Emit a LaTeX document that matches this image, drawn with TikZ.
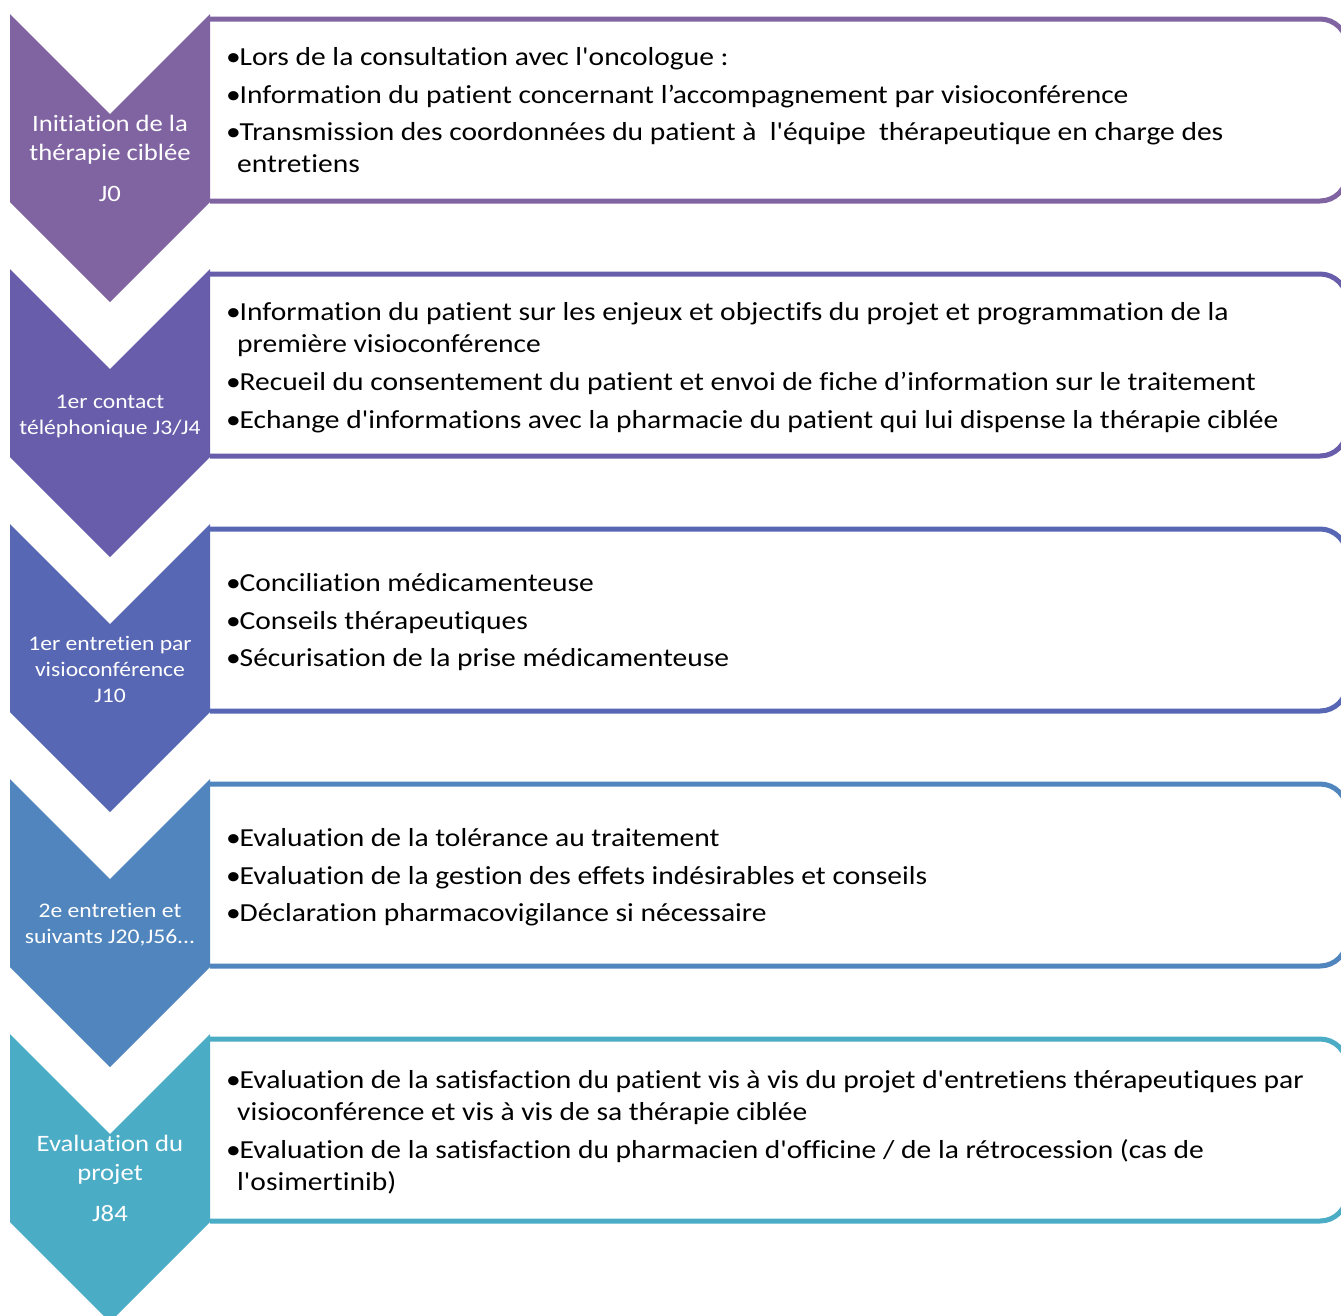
\documentclass[tikz,border=0pt]{standalone}
\usepackage{fontspec}
\setmainfont{Carlito}[Ligatures={TeXOff,NoCommon},FakeStretch=1.135]
\definecolor{cA}{RGB}{128,100,162}
\definecolor{cB}{RGB}{104,93,171}
\definecolor{cC}{RGB}{87,103,180}
\definecolor{cD}{RGB}{81,133,189}
\definecolor{cE}{RGB}{75,172,198}
\tikzset{
  chevshape/.style={fill=#1, draw=none},
  framebox/.style={draw=#1, line width=5pt, rounded corners=27pt},
  biglbl/.style={text=white, anchor=base, inner sep=0pt, font=\fontsize{23.5}{29}\selectfont},
  smalllbl/.style={text=white, anchor=base, inner sep=0pt, font=\fontsize{20.8}{26}\selectfont},
  bul/.style={anchor=base west, inner sep=0pt, font=\fontsize{26}{32}\selectfont}
}
\newcommand{\bl}{\makebox[13.5pt][l]{•}}
\newcommand{\cont}{\hspace*{11pt}}
\begin{document}
\begin{tikzpicture}[x=1pt,y=-1pt]
\useasboundingbox (0,0) rectangle (1341,1315);
\clip (0,0) rectangle (1341,1315);
\fill[white] (0,0) rectangle (1341,1315);

% frames first, chevrons on top
\draw[framebox=cA] (210,19) -- (1347,19) -- (1347,201) -- (210,201);
\draw[framebox=cB] (210,274) -- (1347,274) -- (1347,456) -- (210,456);
\draw[framebox=cC] (210,529) -- (1347,529) -- (1347,711) -- (210,711);
\draw[framebox=cD] (210,784) -- (1347,784) -- (1347,966) -- (210,966);
\draw[framebox=cE] (210,1039) -- (1347,1039) -- (1347,1221) -- (210,1221);

\path[chevshape=cA] (10,14) -- (110,114) -- (210,14) -- (210,202) -- (110,302) -- (10,202) -- cycle;
\path[chevshape=cB] (10,269) -- (110,369) -- (210,269) -- (210,457) -- (110,557) -- (10,457) -- cycle;
\path[chevshape=cC] (10,524) -- (110,624) -- (210,524) -- (210,712) -- (110,812) -- (10,712) -- cycle;
\path[chevshape=cD] (10,779) -- (110,879) -- (210,779) -- (210,967) -- (110,1067) -- (10,967) -- cycle;
\path[chevshape=cE] (10,1034) -- (110,1134) -- (210,1034) -- (210,1222) -- (110,1322) -- (10,1222) -- cycle;

% stage labels
\node[biglbl] (s1) at (110,131.7) {\begin{tabular}[t]{@{}c@{}}Initiation de la\\thérapie ciblée\\[12pt]J0\end{tabular}};
\node[smalllbl] (s2) at (110,408) {\begin{tabular}[t]{@{}c@{}}1er contact\\téléphonique J3/J4\end{tabular}};
\node[smalllbl] (s3) at (110,650) {\begin{tabular}[t]{@{}c@{}}1er entretien par\\visioconférence\\J10\end{tabular}};
\node[smalllbl] (s4) at (110,917) {\begin{tabular}[t]{@{}c@{}}2e entretien et\\suivants J20,J56...\end{tabular}};
\node[biglbl] (s5) at (110,1151.7) {\begin{tabular}[t]{@{}c@{}}Evaluation du\\projet\\[12pt]J84\end{tabular}};

% box 1
\node[bul] (a1) at (226,65) {\bl Lors de la consultation avec l'oncologue :};
\node[bul] (a2) at (226,103) {\bl Information du patient concernant l’accompagnement par visioconférence};
\node[bul] (a3) at (226,140) {\begin{tabular}[t]{@{}l@{}}\bl Transmission des coordonnées du patient à~ l'équipe~ thérapeutique en charge des\\\cont entretiens\end{tabular}};
% box 2
\node[bul] (b1) at (226,320) {\begin{tabular}[t]{@{}l@{}}\bl Information du patient sur les enjeux et objectifs du projet et programmation de la\\\cont première visioconférence\end{tabular}};
\node[bul] (b2) at (226,390) {\bl Recueil du consentement du patient et envoi de fiche d’information sur le traitement};
\node[bul] (b3) at (226,428) {\bl Echange d'informations avec la pharmacie du patient qui lui dispense la thérapie ciblée};
% box 3
\node[bul] (c1) at (226,591) {\bl Conciliation médicamenteuse};
\node[bul] (c2) at (226,629) {\bl Conseils thérapeutiques};
\node[bul] (c3) at (226,666) {\bl Sécurisation de la prise médicamenteuse};
% box 4
\node[bul] (d1) at (226,846) {\bl Evaluation de la tolérance au traitement};
\node[bul] (d2) at (226,884) {\bl Evaluation de la gestion des effets indésirables et conseils};
\node[bul] (d3) at (226,921) {\bl Déclaration pharmacovigilance si nécessaire};
% box 5
\node[bul] (e1) at (226,1088) {\begin{tabular}[t]{@{}l@{}}\bl Evaluation de la satisfaction du patient vis à vis du projet d'entretiens thérapeutiques par\\\cont visioconférence et vis à vis de sa thérapie ciblée\end{tabular}};
\node[bul] (e2) at (226,1158) {\begin{tabular}[t]{@{}l@{}}\bl Evaluation de la satisfaction du pharmacien d'officine / de la rétrocession (cas de\\\cont l'osimertinib)\end{tabular}};
\end{tikzpicture}
\end{document}
